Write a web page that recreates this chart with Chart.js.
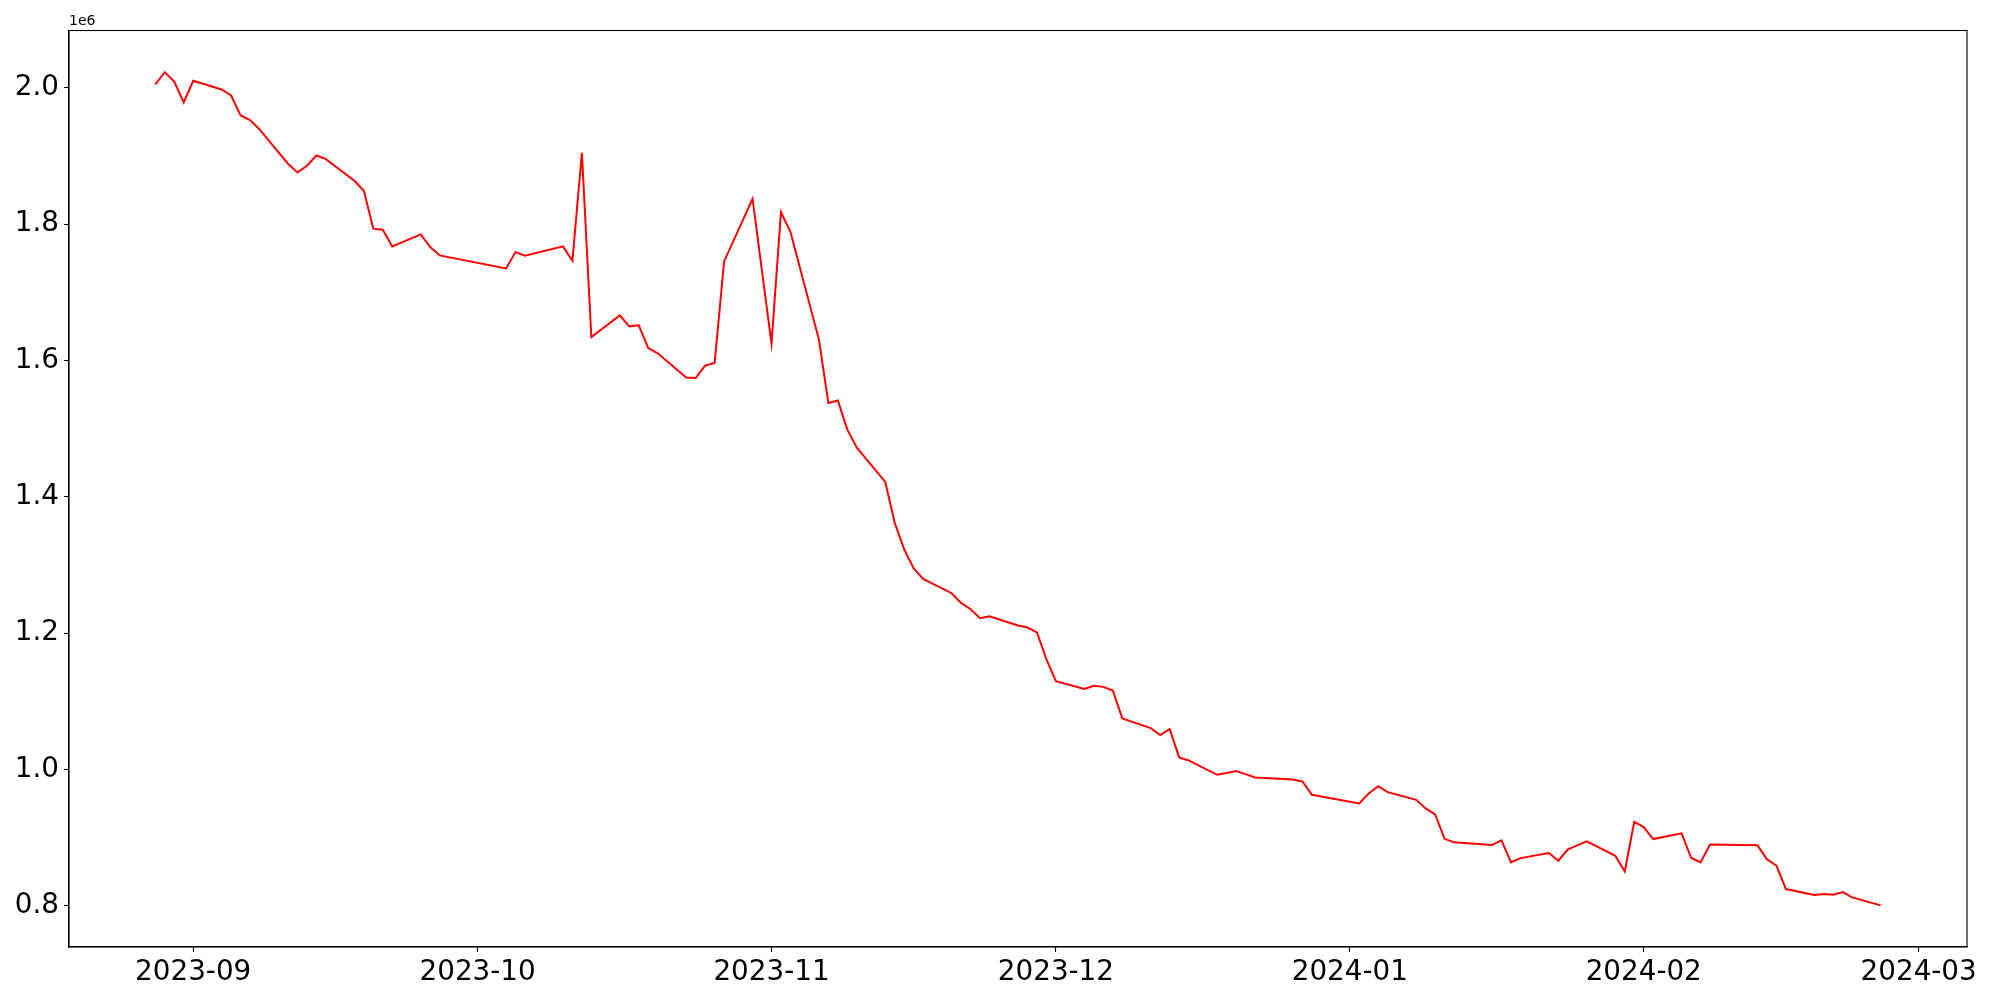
<!DOCTYPE html>
<html>
<head>
<meta charset="utf-8">
<script src="https://cdn.jsdelivr.net/npm/chart.js@4.4.1/dist/chart.umd.min.js"></script>
<style>
  html, body { margin: 0; padding: 0; background: #fff; }
  #wrap { width: 2000px; height: 1000px; position: relative; }
</style>
</head>
<body>
<div id="wrap"><canvas id="lineChart"></canvas></div>
<script>
// ----------------------------------------------------
// DATA
// ----------------------------------------------------
const dates = [
    '2023-08-28','2023-08-29','2023-08-30','2023-08-31',
    '2023-09-01','2023-09-04','2023-09-05','2023-09-06','2023-09-07','2023-09-08','2023-09-11','2023-09-12','2023-09-13','2023-09-14','2023-09-15','2023-09-18','2023-09-19','2023-09-20','2023-09-21','2023-09-22','2023-09-25','2023-09-26','2023-09-27',
    '2023-10-04','2023-10-05','2023-10-06','2023-10-10','2023-10-11','2023-10-12','2023-10-13','2023-10-16','2023-10-17','2023-10-18','2023-10-19','2023-10-20','2023-10-23','2023-10-24','2023-10-25','2023-10-26','2023-10-27','2023-10-30',
    '2023-11-01','2023-11-02','2023-11-03','2023-11-06','2023-11-07','2023-11-08','2023-11-09','2023-11-10','2023-11-13','2023-11-14','2023-11-15','2023-11-16','2023-11-17','2023-11-20','2023-11-21','2023-11-22','2023-11-23','2023-11-24','2023-11-27','2023-11-28','2023-11-29','2023-11-30',
    '2023-12-01','2023-12-04','2023-12-05','2023-12-06','2023-12-07','2023-12-08','2023-12-11','2023-12-12','2023-12-13','2023-12-14','2023-12-15','2023-12-18','2023-12-19','2023-12-20','2023-12-21','2023-12-22','2023-12-26','2023-12-27','2023-12-28',
    '2024-01-02','2024-01-03','2024-01-04','2024-01-05','2024-01-08','2024-01-09','2024-01-10','2024-01-11','2024-01-12','2024-01-16','2024-01-17','2024-01-18','2024-01-19','2024-01-22','2024-01-23','2024-01-24','2024-01-25','2024-01-26','2024-01-29','2024-01-30','2024-01-31',
    '2024-02-01','2024-02-02','2024-02-05','2024-02-06','2024-02-07','2024-02-08','2024-02-13','2024-02-14','2024-02-15','2024-02-16','2024-02-19','2024-02-20','2024-02-21','2024-02-22','2024-02-23','2024-02-26'
];

const values = [
    2004800, 2022900, 2009200, 1978400,
    2010300, 1997500, 1988700, 1959400, 1952500, 1938900, 1888600, 1875800, 1885600, 1900700, 1895300, 1863600, 1849000, 1793300, 1791800, 1767300, 1784900, 1766300, 1754100,
    1735000, 1758900, 1753700, 1767300, 1746300, 1904700, 1634300, 1666100, 1650000, 1651500, 1618200, 1610400, 1574800, 1574200, 1592400, 1596200, 1745300, 1837200,
    1624600, 1817600, 1788300, 1630900, 1537500, 1541100, 1498500, 1472100, 1421700, 1361600, 1322600, 1294700, 1279500, 1258500, 1244300, 1235000, 1221800, 1224800, 1211100, 1208200, 1200900, 1161300,
    1129500, 1118200, 1122600, 1121100, 1115800, 1074800, 1060600, 1050300, 1059100, 1017600, 1013200, 992100, 994600, 997500, 993100, 988300, 985300, 982400, 962800,
    950100, 964800, 975500, 966700, 955400, 942800, 934000, 898200, 893000, 889000, 895900, 863600, 869900, 877300, 866000, 882700, 888600, 894400, 873300, 850400, 923200,
    915400, 897800, 906200, 870400, 863600, 890000, 888600, 868000, 858700, 824500, 815700, 817100, 816100, 820100, 812300, 800600
];

const xTickLabels = ['2023-09', '2023-10', '2023-11', '2023-12', '2024-01', '2024-02', '2024-03'];
const yTickValues = [800000, 1000000, 1200000, 1400000, 1600000, 1800000, 2000000];

// ----------------------------------------------------
// HELPERS
// ----------------------------------------------------
function toMs(str) {
    const p = str.split('-').map(Number);
    return Date.UTC(p[0], p[1] - 1, p[2] || 1);
}

function fmtMonth(ms) {
    const d = new Date(ms);
    return d.getUTCFullYear() + '-' + String(d.getUTCMonth() + 1).padStart(2, '0');
}

const points = dates.map((d, i) => ({ x: toMs(d), y: values[i] }));

// matplotlib-style 5% auto margins
const xFirst = points[0].x, xLast = points[points.length - 1].x;
const xPad = (xLast - xFirst) * 0.05;
const yLo = Math.min(...values), yHi = Math.max(...values);
const yPad = (yHi - yLo) * 0.05;

const FONT = 'DejaVu Sans';
Chart.defaults.font.family = FONT;
Chart.defaults.color = '#000';

// frame on all four sides + the "1e6" offset label
const framePlugin = {
    id: 'frame',
    afterDraw(chart) {
        const { ctx, chartArea: a } = chart;
        ctx.save();
        ctx.strokeStyle = '#000';
        ctx.lineWidth = 1.1;
        ctx.strokeRect(a.left, a.top, a.right - a.left, a.bottom - a.top);
        ctx.fillStyle = '#000';
        ctx.font = '14px "' + FONT + '"';
        ctx.textAlign = 'left';
        ctx.textBaseline = 'bottom';
        ctx.fillText('1e6', a.left, a.top - 2);
        ctx.restore();
    }
};

new Chart(document.getElementById('lineChart').getContext('2d'), {
    type: 'line',
    data: {
        datasets: [{
            data: points,
            borderColor: '#ff0000',
            borderWidth: 2,
            pointRadius: 0,
            tension: 0,
            fill: false
        }]
    },
    options: {
        responsive: true,
        maintainAspectRatio: false,
        animation: false,
        devicePixelRatio: 1,
        layout: { padding: { top: 30.5, right: 33, left: 0, bottom: 0 } },
        plugins: { legend: { display: false }, tooltip: { enabled: false } },
        scales: {
            x: {
                type: 'linear',
                min: xFirst - xPad,
                max: xLast + xPad,
                afterBuildTicks: s => { s.ticks = xTickLabels.map(t => ({ value: toMs(t) })); },
                afterFit: s => { s.height = 53; },
                grid: { drawOnChartArea: false, drawTicks: true, tickLength: 5, tickColor: '#000', tickWidth: 1.1 },
                border: { display: true, color: '#000', width: 1.1 },
                ticks: {
                    autoSkip: false, maxRotation: 0, padding: 4,
                    font: { size: 27.8 },
                    callback: v => fmtMonth(v)
                }
            },
            y: {
                type: 'linear',
                min: yLo - yPad,
                max: yHi + yPad,
                afterBuildTicks: s => { s.ticks = yTickValues.map(v => ({ value: v })); },
                afterFit: s => { s.width = 69; },
                grid: { drawOnChartArea: false, drawTicks: true, tickLength: 5, tickColor: '#000', tickWidth: 1.1 },
                border: { display: true, color: '#000', width: 1.1 },
                ticks: {
                    padding: 5,
                    font: { size: 27.8 },
                    callback: v => (v / 1e6).toFixed(1)
                }
            }
        }
    },
    plugins: [framePlugin]
});
</script>
</body>
</html>
